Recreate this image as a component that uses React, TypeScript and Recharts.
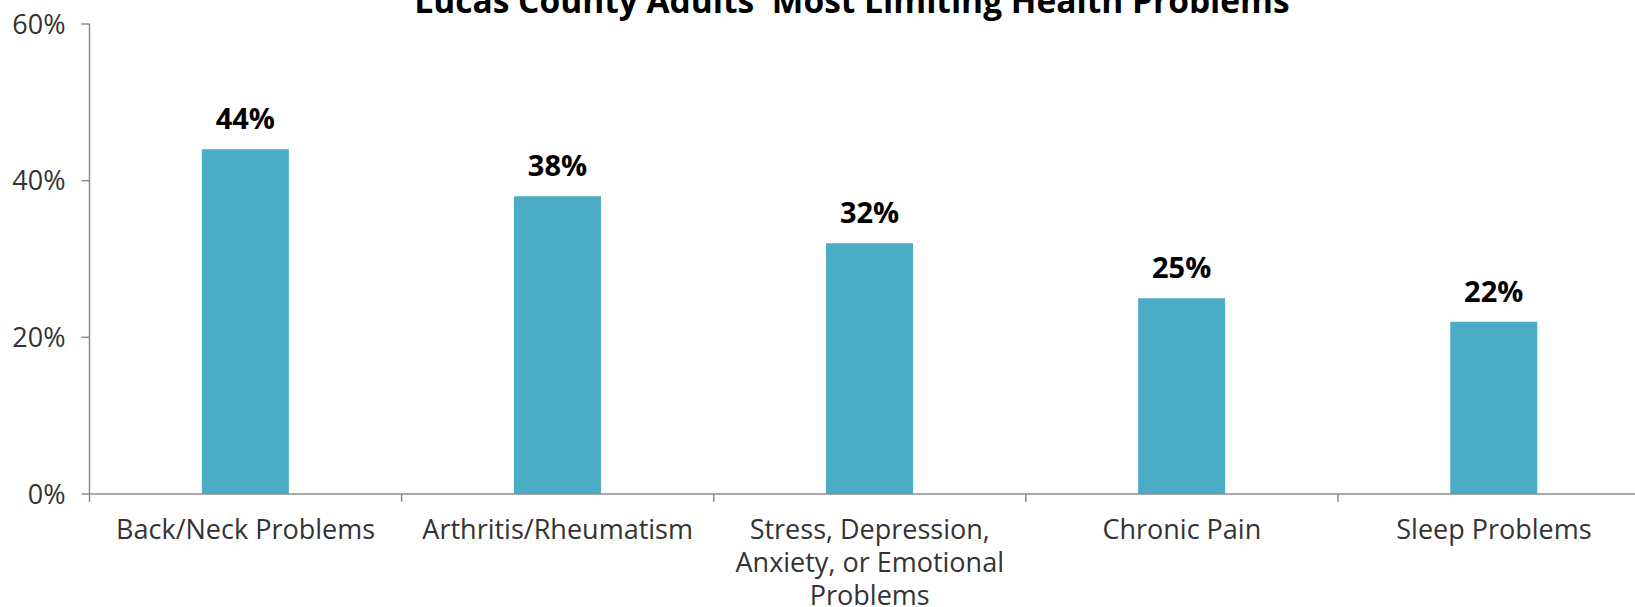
import React from "react";
import { BarChart, Bar, XAxis, YAxis, LabelList } from "recharts";

const categories = [
  "Back/Neck Problems",
  "Arthritis/Rheumatism",
  "Stress, Depression,\nAnxiety, or Emotional\nProblems",
  "Chronic Pain",
  "Sleep Problems",
];
const values = [44, 38, 32, 25, 22];
const yTicks = [0, 20, 40, 60];
const title = "Lucas County Adults' Most Limiting Health Problems";

const data = categories.map((name, i) => ({ name, value: values[i] }));

const FONT = "'Open Sans', 'Noto Sans', sans-serif";
const AXIS_COLOR = "#8c8c8c";
const TEXT_COLOR = "#333333";
const BAR_COLOR = "#4BACC6";
const LABEL_SIZE = 27;
const TICK_LEN = 8;

const CatTick = (props: any) => {
  const { x, y, payload, index, visibleTicksCount } = props;
  const half = payload && typeof payload.offset === "number" ? payload.offset : 0;
  const isLast =
    typeof visibleTicksCount === "number"
      ? index === visibleTicksCount - 1
      : index === categories.length - 1;
  const lines = String(payload.value).split("\n");
  return (
    <g>
      {half > 0 && (
        <line
          x1={x - half}
          x2={x - half}
          y1={y}
          y2={y + TICK_LEN}
          stroke={AXIS_COLOR}
          strokeWidth={1.5}
        />
      )}
      {half > 0 && isLast && (
        <line
          x1={x + half}
          x2={x + half}
          y1={y}
          y2={y + TICK_LEN}
          stroke={AXIS_COLOR}
          strokeWidth={1.5}
        />
      )}
      <text
        textAnchor="middle"
        fontFamily={FONT}
        fontSize={LABEL_SIZE}
        fill={TEXT_COLOR}
      >
        {lines.map((line, i) => (
          <tspan key={i} x={x} y={y + 45 + i * 33}>
            {line}
          </tspan>
        ))}
      </text>
    </g>
  );
};

export default function App() {
  return (
    <div
      style={{
        position: "fixed",
        left: 0,
        top: 0,
        width: 1635,
        height: 607,
        overflow: "hidden",
        background: "#fff",
      }}
    >
      <BarChart
        width={1660}
        height={607}
        data={data}
        margin={{ top: 24, right: 10, left: 0, bottom: 0 }}
        barCategoryGap="36%"
      >
        <XAxis
          dataKey="name"
          height={113}
          interval={0}
          tickLine={false}
          tickSize={0}
          tickMargin={0}
          axisLine={{ stroke: AXIS_COLOR, strokeWidth: 1.5 }}
          tick={CatTick}
        />
        <YAxis
          width={89.5}
          domain={[0, 60]}
          ticks={yTicks}
          tickFormatter={(v: number) => `${v}%`}
          axisLine={{ stroke: AXIS_COLOR, strokeWidth: 1.5 }}
          tickLine={{ stroke: AXIS_COLOR, strokeWidth: 1.5 }}
          tickSize={TICK_LEN}
          tickMargin={16}
          tick={{ fontFamily: FONT, fontSize: LABEL_SIZE, fill: TEXT_COLOR }}
        />
        <Bar dataKey="value" fill={BAR_COLOR} isAnimationActive={false}>
          <LabelList
            dataKey="value"
            position="top"
            offset={20}
            formatter={(v: number) => `${v}%`}
            style={{ fontFamily: FONT, fontSize: 29, fontWeight: 700, fill: "#000" }}
          />
        </Bar>
      </BarChart>
      <svg
        width={1635}
        height={40}
        style={{ position: "absolute", left: 0, top: 0, pointerEvents: "none" }}
      >
        <text
          x={852}
          y={12.7}
          textAnchor="middle"
          fontFamily={FONT}
          fontWeight={700}
          fontSize={33.5}
          fill="#000"
        >
          {title}
        </text>
      </svg>
    </div>
  );
}
